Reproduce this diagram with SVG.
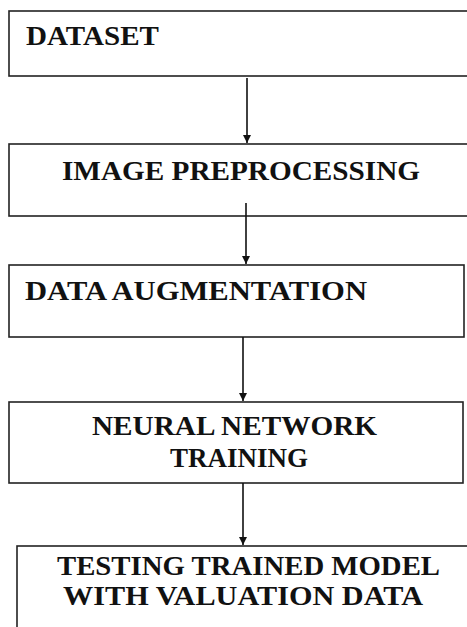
<svg xmlns="http://www.w3.org/2000/svg" width="467" height="627" viewBox="0 0 467 627">
<defs>
<marker id="arr" markerWidth="10" markerHeight="10" refX="8" refY="4" orient="auto" markerUnits="userSpaceOnUse">
<path d="M0,0 L8,4 L0,8 Z" fill="#111"/>
</marker>
<style>
.box{fill:#fff;stroke:#222;stroke-width:1.6}
.t{font-family:"Liberation Serif","Times New Roman",serif;font-weight:bold;font-size:27px;fill:#111}
.c{stroke:#111;stroke-width:1.6;fill:none}
</style>
</defs>
<rect width="467" height="627" fill="#fff"/>
<g id="node-dataset">
<rect class="box" x="9" y="11" width="470" height="65"/>
<text class="t" x="26" y="45" textLength="133" lengthAdjust="spacingAndGlyphs">DATASET</text>
</g>
<g id="node-preprocessing">
<rect class="box" x="9" y="144" width="470" height="72"/>
<text class="t" x="62" y="180" textLength="358" lengthAdjust="spacingAndGlyphs">IMAGE PREPROCESSING</text>
</g>
<g id="node-augmentation">
<rect class="box" x="9" y="265" width="455" height="72"/>
<text class="t" x="25" y="300" textLength="342" lengthAdjust="spacingAndGlyphs">DATA AUGMENTATION</text>
</g>
<g id="node-training">
<rect class="box" x="9" y="402" width="454" height="81"/>
<text class="t" x="92" y="435" textLength="285" lengthAdjust="spacingAndGlyphs">NEURAL NETWORK</text>
<text class="t" x="170" y="467" textLength="138" lengthAdjust="spacingAndGlyphs">TRAINING</text>
</g>
<g id="node-testing">
<rect class="box" x="17" y="546" width="470" height="100"/>
<text class="t" x="57" y="575" textLength="383" lengthAdjust="spacingAndGlyphs">TESTING TRAINED MODEL</text>
<text class="t" x="63" y="605" textLength="360" lengthAdjust="spacingAndGlyphs">WITH VALUATION DATA</text>
</g>
<g id="connectors">
<line class="c" x1="247" y1="78" x2="247" y2="143" marker-end="url(#arr)"/>
<line class="c" x1="246" y1="203" x2="246" y2="264" marker-end="url(#arr)"/>
<line class="c" x1="243" y1="337" x2="243" y2="401" marker-end="url(#arr)"/>
<line class="c" x1="243" y1="483" x2="243" y2="545" marker-end="url(#arr)"/>
</g>
</svg>
